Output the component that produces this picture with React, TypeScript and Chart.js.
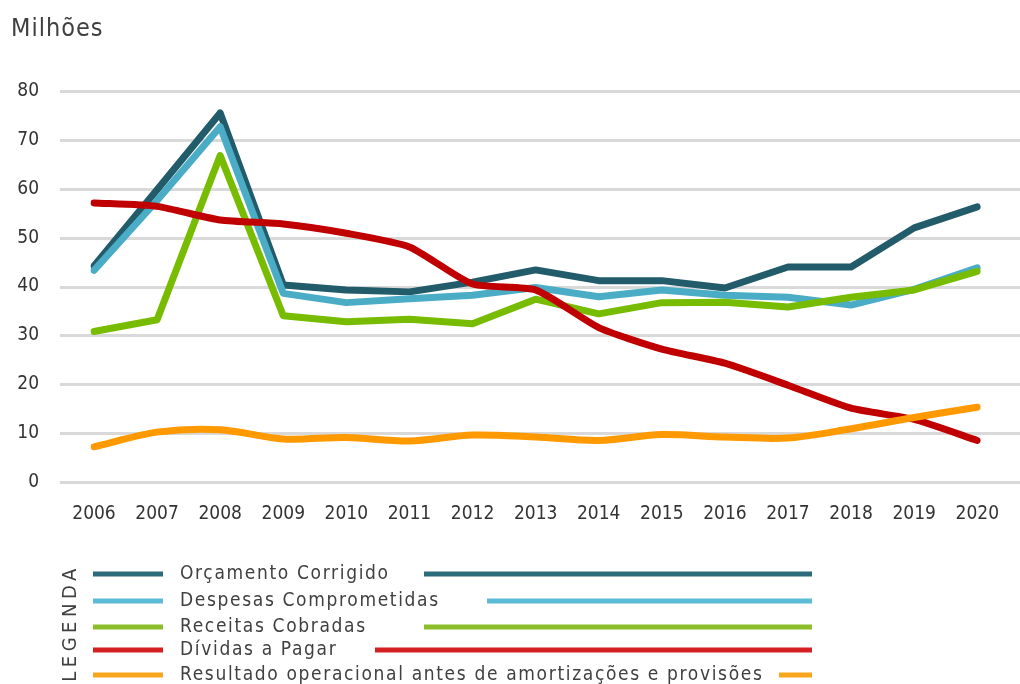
import { useEffect, useRef } from 'react';
import { Chart, registerables } from 'chart.js';

Chart.register(...registerables);

const years = ['2006', '2007', '2008', '2009', '2010', '2011', '2012', '2013', '2014', '2015', '2016', '2017', '2018', '2019', '2020'];
const orcamentoCorrigido = [44.2, 59.8, 75.5, 40.3, 39.3, 38.9, 40.9, 43.4, 41.2, 41.2, 39.7, 44.0, 44.0, 52.0, 56.3];
const despesasComprometidas = [43.3, 57.6, 72.7, 38.6, 36.7, 37.5, 38.2, 39.8, 37.9, 39.3, 38.2, 37.8, 36.2, 39.4, 43.8];
const receitasCobradas = [30.8, 33.2, 66.8, 34.0, 32.8, 33.3, 32.4, 37.4, 34.4, 36.7, 36.8, 35.8, 37.8, 39.3, 43.1];
const dividasAPagar = [57.1, 56.4, 53.6, 52.8, 50.9, 48.1, 40.5, 39.3, 31.6, 27.2, 24.3, 19.8, 15.1, 12.8, 8.5];
const resultadoOperacional = [7.2, 10.2, 10.7, 8.8, 9.1, 8.4, 9.6, 9.2, 8.5, 9.7, 9.2, 9.0, 10.9, 13.2, 15.3];

const seriesLabels = [
  'Orçamento Corrigido',
  'Despesas Comprometidas',
  'Receitas Cobradas',
  'Dívidas a Pagar',
  'Resultado operacional antes de amortizações e provisões',
];
const lineColors = ['#225b69', '#4bacc6', '#77bc00', '#c00000', '#ff9900'];
const legendColors = ['#2b6b7a', '#5dbcd5', '#8cbd2a', '#d42020', '#f8a61d'];
const yAxisTitle = 'Milhões';
const legendTitle = 'LEGENDA';

const FONT = '"DejaVu Sans Condensed", "DejaVu Sans", sans-serif';

export default function App() {
  const ref = useRef<HTMLCanvasElement>(null);

  useEffect(() => {
    const canvas = ref.current;
    if (!canvas) return;

    const gridPlugin = {
      id: 'customGrid',
      beforeDatasetsDraw(chart: any) {
        const ctx = chart.ctx;
        const y = chart.scales.y;
        ctx.save();
        ctx.strokeStyle = '#d9d9d9';
        ctx.lineWidth = 3;
        y.ticks.forEach((t: any) => {
          const py = Math.round(y.getPixelForValue(t.value)) + 0.5;
          ctx.beginPath();
          ctx.moveTo(60, py);
          ctx.lineTo(chart.width, py);
          ctx.stroke();
        });
        ctx.restore();
      },
    };

    const decorPlugin = {
      id: 'decor',
      afterDraw(chart: any) {
        const ctx = chart.ctx;
        ctx.save();
        ctx.fillStyle = '#404040';
        ctx.font = `25px ${FONT}`;
        (ctx as any).letterSpacing = '1px';
        ctx.textAlign = 'left';
        ctx.textBaseline = 'alphabetic';
        ctx.fillText(yAxisTitle, 11, 36);

        ctx.save();
        ctx.translate(71, 625);
        ctx.rotate(-Math.PI / 2);
        ctx.font = `20px ${FONT}`;
        (ctx as any).letterSpacing = '4.5px';
        ctx.textAlign = 'center';
        ctx.textBaseline = 'middle';
        ctx.fillText(legendTitle, 2, 0);
        ctx.restore();

        const rows = [574, 601, 627, 650, 675];
        const trailStart = [424, 487, 424, 375, 779];
        ctx.font = `19px ${FONT}`;
        (ctx as any).letterSpacing = '1.65px';
        ctx.textAlign = 'left';
        ctx.textBaseline = 'middle';
        seriesLabels.forEach((label, i) => {
          const yy = rows[i];
          ctx.strokeStyle = legendColors[i];
          ctx.lineWidth = 5;
          ctx.lineCap = 'butt';
          ctx.beginPath();
          ctx.moveTo(93, yy);
          ctx.lineTo(163, yy);
          ctx.stroke();
          ctx.beginPath();
          ctx.moveTo(trailStart[i], yy);
          ctx.lineTo(812, yy);
          ctx.stroke();
          ctx.fillStyle = '#404040';
          ctx.fillText(label, 180, yy);
        });
        ctx.restore();
      },
    };

    const series = [orcamentoCorrigido, despesasComprometidas, receitasCobradas, dividasAPagar, resultadoOperacional];
    const tensions = [0, 0, 0, 0.2, 0.3];
    const orders = [5, 4, 3, 2, 1];

    const chart = new Chart(canvas, {
      type: 'line',
      data: {
        labels: years,
        datasets: series.map((d, i) => ({
          label: seriesLabels[i],
          data: d,
          borderColor: lineColors[i],
          backgroundColor: lineColors[i],
          borderWidth: 7,
          borderJoinStyle: 'round' as const,
          borderCapStyle: 'round' as const,
          pointRadius: 0,
          tension: tensions[i],
          order: orders[i],
        })),
      },
      options: {
        responsive: false,
        animation: false,
        devicePixelRatio: 1,
        layout: { padding: { top: 91, right: 23, bottom: 152, left: 0 } },
        plugins: {
          legend: { display: false },
          tooltip: { enabled: false },
          title: { display: false },
        },
        scales: {
          x: {
            type: 'category',
            offset: false,
            grid: { display: false, drawTicks: false },
            border: { display: false },
            ticks: {
              color: '#333333',
              font: { family: FONT, size: 19 },
              padding: 21,
              maxRotation: 0,
              autoSkip: false,
            },
            afterFit: (scale: any) => {
              scale.height = 50;
            },
          },
          y: {
            min: 0,
            max: 80,
            grid: { display: false, drawTicks: false },
            border: { display: false },
            ticks: {
              stepSize: 10,
              color: '#333333',
              font: { family: FONT, size: 19 },
              padding: 55,
            },
            afterFit: (scale: any) => {
              scale.width = 94;
            },
          },
        },
      },
      plugins: [gridPlugin, decorPlugin],
    });

    return () => {
      chart.destroy();
    };
  }, []);

  return (
    <div style={{ position: 'fixed', left: 0, top: 0, width: 1020, height: 684, background: '#ffffff' }}>
      <canvas ref={ref} width={1020} height={684} style={{ display: 'block' }} />
    </div>
  );
}
